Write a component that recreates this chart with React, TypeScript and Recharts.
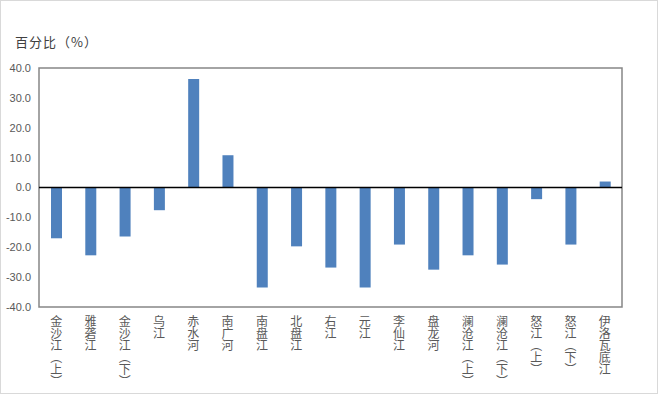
import { BarChart, Bar, XAxis, YAxis, ReferenceLine, ReferenceArea } from "recharts"

const categories = [
  "金沙江（上）", "雅砻江", "金沙江（下）", "乌江", "赤水河", "南广河", "南盘江", "北盘江", "右江",
  "元江", "李仙江", "盘龙河", "澜沧江（上）", "澜沧江（下）", "怒江（上）", "怒江（下）", "伊洛瓦底江",
]
const values = [
  -17.0, -22.7, -16.4, -7.6, 36.3, 10.8, -33.5, -19.7, -26.8,
  -33.5, -19.1, -27.5, -22.7, -25.8, -3.9, -19.1, 2.0,
]
const yTicks = [-40, -30, -20, -10, 0, 10, 20, 30, 40]

const data = categories.map((name, i) => ({ name, value: values[i] }))

const GRAY = "#595959"
const BORDER = "#868686"
const BAR = "#4f81bd"

function VerticalTick({ x, y, payload }: any) {
  return (
    <text
      x={x}
      y={y}
      fill={GRAY}
      fontSize={12}
      fontFamily="'Noto Sans CJK SC', sans-serif"
      style={{ writingMode: "vertical-rl" } as any}
    >
      {payload.value}
    </text>
  )
}

export default function App() {
  return (
    <div
      style={{
        position: "absolute", left: 0, top: 0, width: 658, height: 394,
        boxSizing: "border-box", border: "1px solid #d9d9d9", background: "#fff",
      }}
    >
      <div
        style={{
          position: "absolute", left: 14, top: 31, fontSize: 13, color: "#404040",
          fontFamily: "'Noto Sans CJK SC', sans-serif", letterSpacing: 1,
        }}
      >
        百分比（%）
      </div>
      <BarChart
        width={656}
        height={392}
        data={data}
        margin={{ top: 67, right: 35, bottom: 0, left: 0 }}
        barSize={11}
      >
        <XAxis
          dataKey="name"
          height={86}
          interval={0}
          tick={<VerticalTick />}
          tickLine={false}
          axisLine={false}
        />
        <YAxis
          domain={[-40, 40]}
          ticks={yTicks}
          interval={0}
          width={38}
          tickFormatter={(v: number) => v.toFixed(1)}
          tick={{ fill: GRAY, fontSize: 11, fontFamily: "'Liberation Sans', Arial, sans-serif" }}
          tickLine={false}
          tickSize={0}
          tickMargin={8}
          axisLine={false}
        />
        <ReferenceArea y1={-40} y2={40} fill="none" stroke={BORDER} strokeWidth={1.5} ifOverflow="visible" />
        <ReferenceLine y={0} stroke="#000" strokeWidth={1.5} />
        <Bar dataKey="value" fill={BAR} isAnimationActive={false} />
      </BarChart>
    </div>
  )
}
